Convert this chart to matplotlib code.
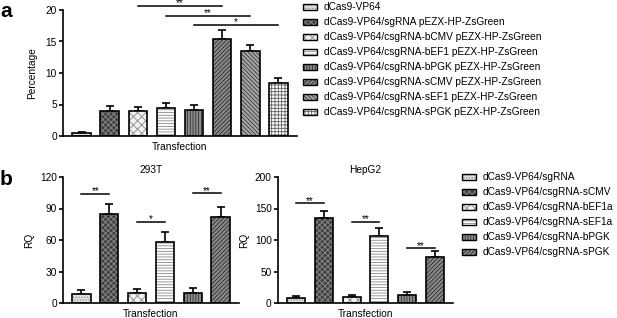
import numpy as np
import matplotlib
matplotlib.use("Agg")
import matplotlib.pyplot as plt
from matplotlib.patches import Rectangle

plt.rcParams['font.family'] = ['Liberation Sans', 'DejaVu Sans']
plt.rcParams['hatch.linewidth'] = 0.6

# ---- data ----
a_labels = ["dCas9-VP64",
            "dCas9-VP64/sgRNA pEZX-HP-ZsGreen",
            "dCas9-VP64/csgRNA-bCMV pEZX-HP-ZsGreen",
            "dCas9-VP64/csgRNA-bEF1 pEZX-HP-ZsGreen",
            "dCas9-VP64/csgRNA-bPGK pEZX-HP-ZsGreen",
            "dCas9-VP64/csgRNA-sCMV pEZX-HP-ZsGreen",
            "dCas9-VP64/csgRNA-sEF1 pEZX-HP-ZsGreen",
            "dCas9-VP64/csgRNA-sPGK pEZX-HP-ZsGreen"]
a_values = [0.5, 4.0, 3.9, 4.4, 4.1, 15.4, 13.5, 8.4]
a_err = [0.2, 0.8, 0.7, 0.8, 0.9, 1.5, 1.0, 0.85]
a_sig = [(2, 5, 20.7, "**"), (3, 6, 19.1, "**"), (4, 7, 17.6, "*")]

b_labels = ["dCas9-VP64/sgRNA",
            "dCas9-VP64/csgRNA-sCMV",
            "dCas9-VP64/csgRNA-bEF1a",
            "dCas9-VP64/csgRNA-sEF1a",
            "dCas9-VP64/csgRNA-bPGK",
            "dCas9-VP64/csgRNA-sPGK"]
t293_values = [8.3, 84.5, 9.5, 58.4, 9.8, 82.2]
t293_err = [3.7, 9.5, 3.5, 8.9, 4.2, 9.5]
t293_sig = [(0, 1, 103.8, "**"), (2, 3, 77.4, "*"), (4, 5, 104.5, "**")]
hep_values = [7.9, 134.4, 10.0, 106.9, 12.7, 72.5]
hep_err = [3.1, 11.6, 2.7, 12.1, 4.3, 10.0]
hep_sig = [(0, 1, 158, "**"), (2, 3, 129, "**"), (4, 5, 86.8, "**")]

# (facecolor, hatch, hatchcolor)
styles = {
    "dots":   ("#e2e2e2", "......", "#8a8a8a"),
    "dchk":   ("#404040", "xxxxxx", "#8c8c8c"),
    "lchk":   ("#f2f2f2", "xxxx", "#8a8a8a"),
    "horiz":  ("#ffffff", "------", "#8a8a8a"),
    "vert":   ("#8c8c8c", "||||||", "#303030"),
    "diag":   ("#8a8a8a", "////////", "#2a2a2a"),
    "bdiag":  ("#a6a6a6", "\\\\\\\\\\\\\\\\", "#3a3a3a"),
    "grid":   ("#ffffff", "+++++", "#606060"),
}
a_styles = ["dots", "dchk", "lchk", "horiz", "vert", "diag", "bdiag", "grid"]
b_styles = ["dots", "dchk", "lchk", "horiz", "vert", "diag"]

W, H = 617, 318


def fx(x):
    return x / W


def fy(y):
    return 1 - y / H


def draw_bars(ax, values, errs, sty, sig):
    xs = np.arange(len(values))
    for x, v, s in zip(xs, values, sty):
        fc, h, hc = styles[s]
        ax.bar(x, v, width=0.66, color=fc, edgecolor=hc, hatch=h, linewidth=0, zorder=2)
        ax.bar(x, v, width=0.66, fill=False, edgecolor="black", linewidth=1.2, zorder=3)
    ax.errorbar(xs, values, yerr=[np.zeros(len(errs)), errs], fmt="none",
                ecolor="black", elinewidth=1.2, capsize=3, capthick=1.2, zorder=1)
    for i, j, y, star in sig:
        ax.plot([i, j], [y, y], color="black", lw=1.1, clip_on=False, zorder=4)
        ax.annotate(star, ((i + j) / 2, y), xytext=(0, -0.3), textcoords="offset points",
                    ha="center", va="baseline", fontsize=7, annotation_clip=False)
    ax.set_xlim(-0.66, len(values) - 1 + 0.66)
    ax.set_xticks([])
    for sp in ["top", "right"]:
        ax.spines[sp].set_visible(False)
    for sp in ["left", "bottom"]:
        ax.spines[sp].set_linewidth(1.2)
    ax.tick_params(axis="y", labelsize=7.3, length=3, width=1.2, pad=1.5)
    ax.set_xlabel("Transfection", fontsize=7.3, labelpad=4)


def draw_legend(fig, labels, sty, x0, y0, dy):
    for k, (lab, s) in enumerate(zip(labels, sty)):
        fc, h, hc = styles[s]
        yc = y0 + k * dy
        fig.add_artist(Rectangle((fx(x0), fy(yc + 3)), 14 / W, 6 / H,
                                 transform=fig.transFigure, facecolor=fc,
                                 edgecolor=hc, hatch=h, linewidth=0))
        fig.add_artist(Rectangle((fx(x0), fy(yc + 3)), 14 / W, 6 / H,
                                 transform=fig.transFigure, fill=False,
                                 edgecolor="black", linewidth=1.0))
        fig.text(fx(x0 + 21), fy(yc), lab, fontsize=7.3, va="center", ha="left")


fig = plt.figure(figsize=(6.17, 3.18), dpi=100)

# panel a
ax_a = fig.add_axes([fx(63), fy(136), fx(297) - fx(63), fy(10) - fy(136)])
draw_bars(ax_a, a_values, a_err, a_styles, a_sig)
ax_a.set_ylim(0, 20)
ax_a.set_yticks([0, 5, 10, 15, 20])
ax_a.set_ylabel("Percentage", fontsize=7.3, labelpad=6)
draw_legend(fig, a_labels, a_styles, 303, 7, 15)

# panel b, 293T
ax_b1 = fig.add_axes([fx(63), fy(303), fx(239) - fx(63), fy(177) - fy(303)])
draw_bars(ax_b1, t293_values, t293_err, b_styles, t293_sig)
ax_b1.set_ylim(0, 120)
ax_b1.set_yticks([0, 30, 60, 90, 120])
ax_b1.set_ylabel("RQ", fontsize=7.3, labelpad=4)
ax_b1.set_title("293T", fontsize=7.3, pad=3)

# panel b, HepG2
ax_b2 = fig.add_axes([fx(278), fy(303), fx(453) - fx(278), fy(177) - fy(303)])
draw_bars(ax_b2, hep_values, hep_err, b_styles, hep_sig)
ax_b2.set_ylim(0, 200)
ax_b2.set_yticks([0, 50, 100, 150, 200])
ax_b2.set_ylabel("RQ", fontsize=7.3, labelpad=4)
ax_b2.set_title("HepG2", fontsize=7.3, pad=3)
draw_legend(fig, b_labels, b_styles, 462, 177, 15)

fig.text(fx(0), fy(17), "a", fontsize=15, fontweight="bold", va="baseline")
fig.text(fx(0), fy(185), "b", fontsize=15, fontweight="bold", va="baseline")

fig.savefig("out.png", dpi=100)
